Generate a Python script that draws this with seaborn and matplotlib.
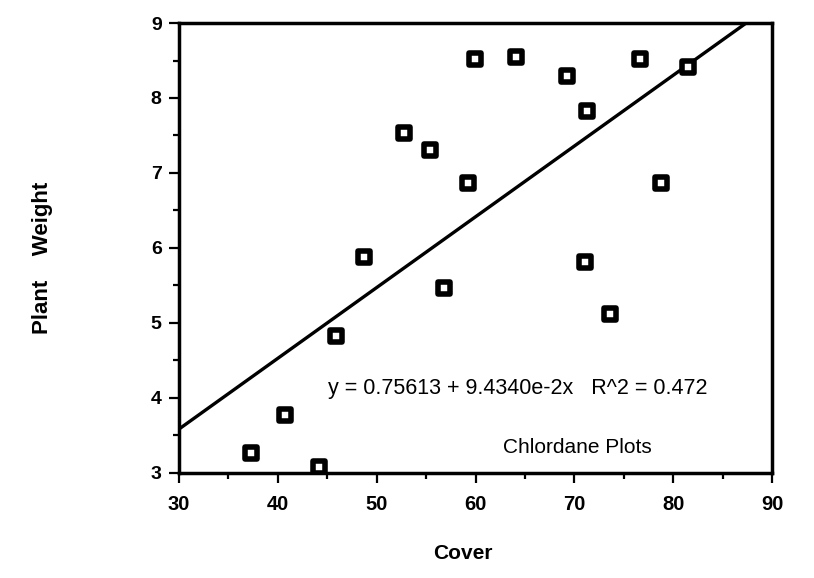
import matplotlib
matplotlib.use("Agg")
import matplotlib.pyplot as plt
import seaborn as sns
import numpy as np
import pandas as pd
from matplotlib.ticker import MultipleLocator

cover = [37.3, 40.7, 44.2, 45.9, 48.7, 52.8, 55.4, 56.8, 59.2, 59.9,
         64.1, 69.3, 71.3, 71.1, 73.6, 76.6, 78.8, 81.5]
weight = [3.27, 3.77, 3.08, 4.83, 5.88, 7.53, 7.31, 5.47, 6.87, 8.52,
          8.55, 8.29, 7.83, 5.81, 5.12, 8.52, 6.87, 8.41]
intercept = 0.75613
slope = 9.4340e-2
x_ticks = [30, 40, 50, 60, 70, 80, 90]
y_ticks = [3, 4, 5, 6, 7, 8, 9]
equation_text = "y = 0.75613 + 9.4340e-2x   R^2 = 0.472"
label_text = "Chlordane Plots"

sns.set_theme(style="white")
plt.rcParams['font.family'] = ['Liberation Sans', 'DejaVu Sans']
plt.rcParams.update({"text.color": "black", "axes.labelcolor": "black",
                     "xtick.color": "black", "ytick.color": "black"})

df = pd.DataFrame({"Cover": cover, "Plant Weight": weight})
line_x = np.array([x_ticks[0], x_ticks[-1]], dtype=float)
line_df = pd.DataFrame({"x": line_x, "y": intercept + slope * line_x})

fig = plt.figure(figsize=(8.14, 5.78), dpi=100)
ax = fig.add_axes([0.220, 0.1817, 0.7285, 0.7785])

sns.lineplot(data=line_df, x="x", y="y", ax=ax, color="black", linewidth=2.4)
sns.scatterplot(data=df, x="Cover", y="Plant Weight", ax=ax, marker="s",
                s=85, facecolor="white", edgecolor="black", linewidth=4.0,
                zorder=3)

ax.set_xlim(30, 90)
ax.set_ylim(3, 9)
ax.set_xticks(x_ticks)
ax.set_yticks(y_ticks)
ax.xaxis.set_minor_locator(MultipleLocator(5))
ax.yaxis.set_minor_locator(MultipleLocator(0.5))
ax.set_xticklabels([str(t) for t in x_ticks], fontweight="bold", fontsize=14.5,
                   color="black")
ax.set_yticklabels([str(t) for t in y_ticks], fontweight="bold", fontsize=14,
                   color="black")
ax.tick_params(axis="both", which="major", direction="out", length=7.5,
               width=1.6, color="black")
ax.tick_params(axis="x", which="major", pad=8)
ax.tick_params(axis="y", which="major", pad=5)
ax.tick_params(axis="both", which="minor", direction="out", length=4,
               width=1.6, color="black")
ax.tick_params(axis="x", which="both", bottom=True)
ax.tick_params(axis="y", which="both", left=True)

for sp in ax.spines.values():
    sp.set_visible(True)
    sp.set_color("black")
    sp.set_linewidth(2.5)

ax.set_xlabel("Cover", fontweight="bold", fontsize=15, color="black")
ax.set_ylabel("Plant    Weight", fontweight="bold", fontsize=16, color="black")
ax.xaxis.set_label_coords(0.479, -0.158)
ax.yaxis.set_label_coords(-0.2125, 0.478)

ax.text(0.571, 0.187, equation_text, transform=ax.transAxes,
        fontsize=15.5, ha="center", va="center", color="black")
ax.text(0.671, 0.056, label_text, transform=ax.transAxes,
        fontsize=15, ha="center", va="center", color="black")

fig.savefig("out.png", dpi=100)
